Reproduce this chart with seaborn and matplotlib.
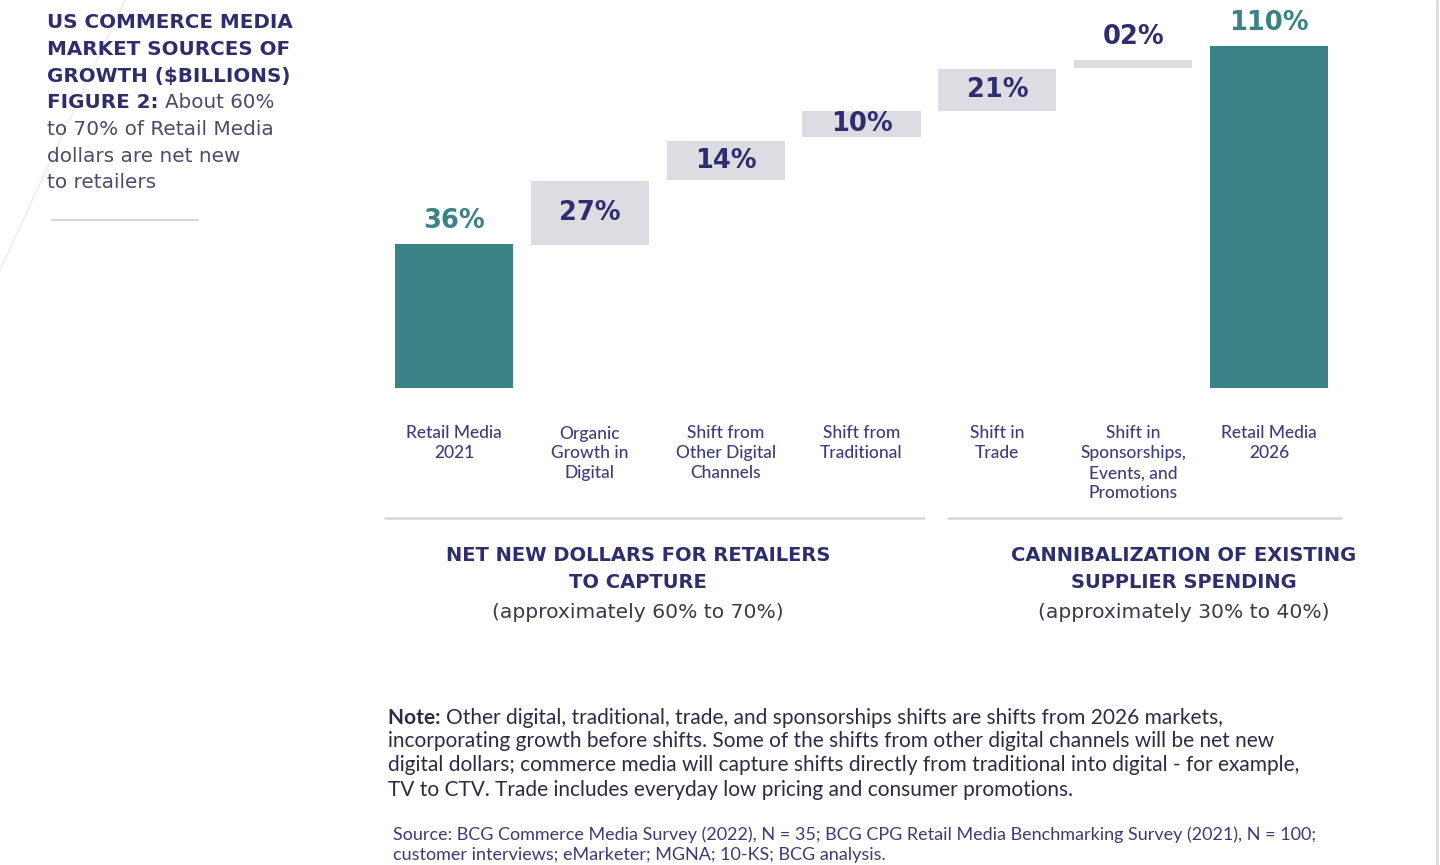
import matplotlib
matplotlib.use("Agg")
import numpy as np
import pandas as pd
import matplotlib.pyplot as plt
from matplotlib.lines import Line2D
import seaborn as sns

# %% data
categories = ["Retail Media\n2021", "Organic\nGrowth in\nDigital", "Shift from\nOther Digital\nChannels",
              "Shift from\nTraditional", "Shift in\nTrade", "Shift in\nSponsorships,\nEvents, and\nPromotions",
              "Retail Media\n2026"]
value_labels = ["36%", "27%", "14%", "10%", "21%", "02%", "110%"]
# floating bars as drawn (chart units, the 2026 bar = 110)
bar_bottom = [0, 46.0, 66.9, 80.7, 89.1, 102.9, 0]
bar_height = [46.3, 20.6, 12.5, 8.4, 13.5, 2.6, 110]
is_total = [True, False, False, False, False, False, True]

group_titles = ["NET NEW DOLLARS FOR RETAILERS\nTO CAPTURE", "CANNIBALIZATION OF EXISTING\nSUPPLIER SPENDING"]
group_notes = ["(approximately 60% to 70%)", "(approximately 30% to 40%)"]

TEAL = "#3a8286"
GRAY = "#dddce3"
NAVY = "#2e2e6e"
LABEL = "#3d3d7c"
WIDE = ["DejaVu Sans"]
NARROW = ["Lato", "DejaVu Sans"]

sns.set_style("white")
plt.rcParams["font.family"] = NARROW

W, H = 1440, 865
fig = plt.figure(figsize=(W / 100, H / 100), dpi=100)


def px(x, y):
    # pixel position (from top-left) -> figure fraction
    return x / W, 1 - y / H


# %% waterfall
ax = fig.add_axes([386 / W, 1 - 388 / H, 951 / W, 342 / H])
df = pd.DataFrame({"category": categories, "height": bar_height})
sns.barplot(data=df, x="category", y="height", bottom=bar_bottom, width=0.87,
            errorbar=None, color=GRAY, saturation=1, ax=ax)
for patch, tot in zip(ax.patches, is_total):
    patch.set_facecolor(TEAL if tot else GRAY)
    patch.set_edgecolor("none")

for i, (b, h, lab, tot) in enumerate(zip(bar_bottom, bar_height, value_labels, is_total)):
    if tot or h < 5:
        ax.annotate(lab, (i, b + h), xytext=(0, 7), textcoords="offset points", ha="center", va="bottom",
                    fontsize=18.5, fontweight="bold", color=TEAL if tot else NAVY, family=WIDE)
    else:
        ax.text(i, b + h / 2, lab, ha="center", va="center", fontsize=18.5, fontweight="bold",
                color=NAVY, family=WIDE)

ax.set_xlim(-0.5, 6.5)
ax.set_ylim(0, 110)
ax.set_xlabel("")
ax.set_ylabel("")
ax.set_yticks([])
sns.despine(ax=ax, left=True, bottom=True)
ax.tick_params(axis="x", length=0, pad=27)
for t in ax.get_xticklabels():
    t.set_fontsize(12.5)
    t.set_color(LABEL)
    t.set_fontweight("medium")
    t.set_linespacing(1.3)
    t.set_verticalalignment("top")

# %% group separators and headings
for (x0, x1) in [(385, 924), (948, 1341)]:
    fig.add_artist(Line2D([x0 / W, x1 / W], [1 - 518 / H] * 2, color="#d6d6d6", lw=1.8))
for cx, title, note in zip([638, 1184], group_titles, group_notes):
    fig.text(*px(cx, 569), title, ha="center", va="center", fontsize=14, fontweight="bold",
             color=NAVY, linespacing=1.55, family=WIDE)
    fig.text(*px(cx, 613), note, ha="center", va="center", fontsize=14.6, color="#3a3a4a", family=WIDE)

# %% rich text helper
renderer = fig.canvas.get_renderer()


def rich_line(x, y, parts, **kw):
    for txt, weight, col in parts:
        t = fig.text(*px(x, y), txt, ha="left", va="center", fontweight=weight, color=col, **kw)
        x += t.get_window_extent(renderer).width


# title block
title_lines = ["US COMMERCE MEDIA", "MARKET SOURCES OF", "GROWTH ($BILLIONS)"]
body_lines = ["to 70% of Retail Media", "dollars are net new", "to retailers"]
y = 23
for line in title_lines:
    rich_line(47, y, [(line, "bold", NAVY)], fontsize=14.3, family=WIDE)
    y += 26.6
rich_line(47, y, [("FIGURE 2: ", "bold", NAVY), ("About 60%", "normal", "#4a4a6a")], fontsize=14.3, family=WIDE)
y += 26.6
for line in body_lines:
    rich_line(47, y, [(line, "normal", "#4a4a6a")], fontsize=14.4, family=WIDE)
    y += 26.6
fig.add_artist(Line2D([52 / W, 198 / W], [1 - 220 / H] * 2, color="#d6d6d6", lw=1.5))

# faint frame lines of the screenshot
fig.add_artist(Line2D([125 / W, 0], [1, 1 - 270 / H], color="#ececec", lw=1))
fig.add_artist(Line2D([1437 / W] * 2, [0, 1], color="#dcdcdc", lw=2))

# note
INK = "#2b2b45"
note_lines = [
    [("Note: ", "bold", INK), ("Other digital, traditional, trade, and sponsorships shifts are shifts from 2026 markets,", "normal", INK)],
    [("incorporating growth before shifts. Some of the shifts from other digital channels will be net new", "normal", INK)],
    [("digital dollars; commerce media will capture shifts directly from traditional into digital - for example,", "normal", INK)],
    [("TV to CTV. Trade includes everyday low pricing and consumer promotions.", "normal", INK)],
]
for parts, yy in zip(note_lines, [718, 741, 765, 790]):
    rich_line(388, yy, parts, fontsize=15)

source_lines = ["Source: BCG Commerce Media Survey (2022), N = 35; BCG CPG Retail Media Benchmarking Survey (2021), N = 100;",
                "customer interviews; eMarketer; MGNA; 10-KS; BCG analysis."]
for line, yy in zip(source_lines, [835, 855]):
    rich_line(393, yy, [(line, "normal", "#3b3b78")], fontsize=13)

fig.savefig("out.png", dpi=100)
